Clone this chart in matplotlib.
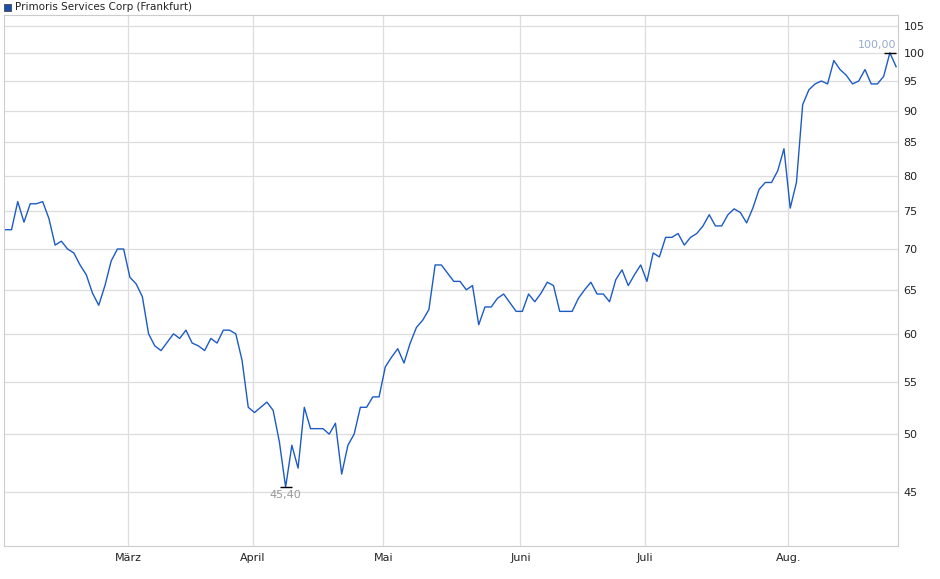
import matplotlib
matplotlib.use("Agg")
import matplotlib.pyplot as plt
import matplotlib.ticker as mticker
import pandas as pd
import numpy as np

values = [72.5,72.5,76.3,73.5,76,76,76.3,74,70.5,71,70,69.5,68,66.8,64.6,63.2,65.5,68.5,70,70,
          66.5,65.7,64.2,60,58.7,58.2,59.1,60,59.5,60.4,59,58.7,58.2,59.5,59,60.4,60.4,60,57.2,52.5,
          52,52.5,53,52.2,49.3,45.4,49,47,52.5,50.5,50.5,50.5,50,51,46.5,49,50,52.5,52.5,53.5,
          53.5,56.5,57.5,58.4,
          56.9,59,60.7,61.5,62.7,68,68,67,66,66,65,65.5,61,63,63,64,64.5,63.5,62.5,62.5,
          64.5,63.6,64.6,65.9,65.5,62.5,62.5,62.5,64,65,65.9,64.5,64.5,63.6,66.2,67.4,65.5,66.8,68,66,
          69.5,69,
          71.5,71.5,72,70.5,71.5,72,73,74.5,73,73,74.5,75.3,74.8,73.4,75.4,78,79,79,80.7,84,
          75.4,79,91,93.5,94.5,95,94.5,98.6,97,96,94.5,95,97,94.5,94.5,95.8,100,97.5]
holidays = ["2024-03-29", "2024-04-01", "2024-05-01"]
month_labels = ["März", "April", "Mai", "Juni", "Juli", "Aug."]
month_ticks = ["2024-03-01", "2024-04-01", "2024-05-01", "2024-06-01", "2024-07-01", "2024-08-01"]
y_ticks = [45, 50, 55, 60, 65, 70, 75, 80, 85, 90, 95, 100, 105]

days = pd.bdate_range("2024-01-25", "2024-08-26")
days = days[~days.isin(pd.to_datetime(holidays))]
dates = days[-len(values):]
x = np.arange(len(values))
tick_pos = [int(dates.searchsorted(pd.Timestamp(m))) - 0.3 for m in month_ticks]

fig = plt.figure(figsize=(9.4, 5.79), dpi=100)
ax = fig.add_axes([0.0043, 0.057, 0.951, 0.917])
ax.plot(x, values, color="#1c5bc6", lw=1.0)
ax.set_yscale("log")
ax.set_ylim(40.8, 107.1)
ax.set_xlim(-0.2, len(values) - 1 + 0.3)
ax.yaxis.tick_right()
ax.yaxis.set_major_locator(mticker.FixedLocator(y_ticks))
ax.yaxis.set_major_formatter(mticker.FixedFormatter([str(v) for v in y_ticks]))
ax.yaxis.set_minor_locator(mticker.NullLocator())
ax.set_xticks(tick_pos)
ax.set_xticklabels(month_labels)
ax.tick_params(axis="both", length=0, labelsize=8, colors="#222222")
ax.tick_params(axis="y", pad=4)
ax.tick_params(axis="x", pad=5)
ax.grid(True, color="#dddddd", lw=0.9)
for s in ax.spines.values():
    s.set_color("#cccccc")
    s.set_linewidth(0.8)

imin = int(np.argmin(values)); imax = int(np.argmax(values))
ax.plot([imin], [values[imin]], marker="_", ms=8, color="black", mew=1)
ax.plot([imax], [values[imax]], marker="_", ms=8, color="black", mew=1)
ax.annotate(f"{values[imin]:.2f}".replace(".", ","), (imin, values[imin]),
            xytext=(0, -2), textcoords="offset points", ha="center", va="top",
            fontsize=8, color="#999999")
ax.annotate(f"{values[imax]:.2f}".replace(".", ","), (imax, values[imax]),
            xytext=(-9, 2), textcoords="offset points", ha="center", va="bottom",
            fontsize=8, color="#99aacc")

fig.patches.append(plt.Rectangle((4/940, 1-11/579), 7/940, 7/579, transform=fig.transFigure,
                                 facecolor="#1c4fa8", edgecolor="#333333", lw=0.5))
fig.text(15/940, 1-7.5/579, "Primoris Services Corp (Frankfurt)", fontsize=7.5,
         va="center", ha="left", color="#222222")

fig.savefig("out.png", dpi=100)
